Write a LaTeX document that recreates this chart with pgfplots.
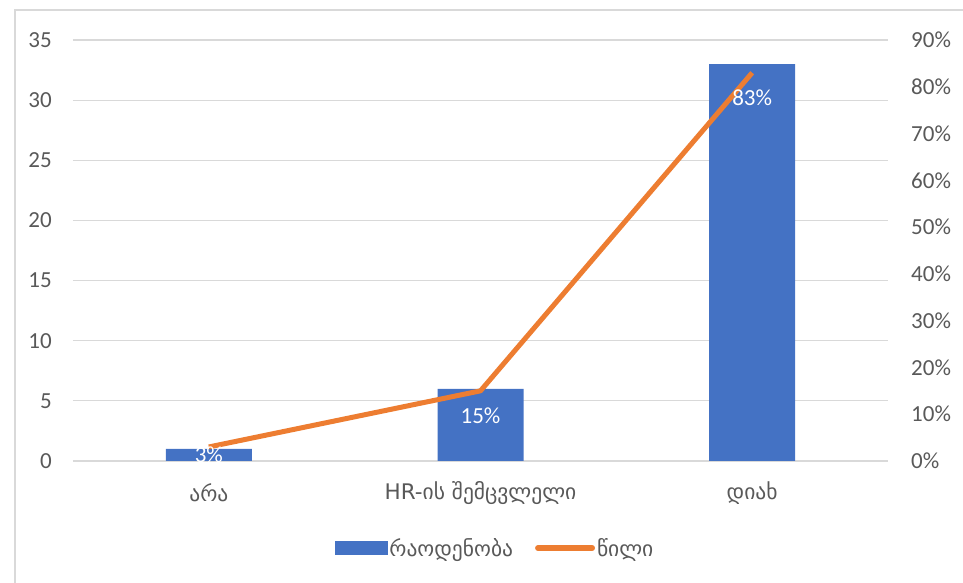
\documentclass[border=0pt]{standalone}
\usepackage{fontspec}
\setmainfont{Carlito}
\newfontfamily\geo{DejaVu Sans}
\usepackage{pgfplots}
\pgfplotsset{compat=1.18}
\definecolor{barblue}{HTML}{4472C4}
\definecolor{lineorange}{HTML}{ED7D31}
\definecolor{gridgray}{HTML}{D9D9D9}
\definecolor{labelgray}{HTML}{595959}
\newcommand\tfont{\fontsize{23}{27}\selectfont}
\newcommand\gfont{\geo\fontsize{21.5}{25}\selectfont}

\begin{document}
\begin{tikzpicture}[x=1pt,y=1pt]
\useasboundingbox (0,0) rectangle (963,583);
\draw[gridgray, line width=1.2pt] (15,-10) -- (15,573) -- (980,573);

% left axis: counts
\begin{axis}[
  at={(73pt,122pt)}, anchor=south west,
  scale only axis, width=815pt, height=421pt,
  xmin=-0.5, xmax=2.5, ymin=0, ymax=35,
  axis line style={draw=none},
  major tick length=0pt,
  ytick={0,5,10,15,20,25,30,35},
  ymajorgrids=true,
  grid style={gridgray, line width=1.2pt},
  xtick={0,1,2},
  xticklabels={{არა},{HR-ის შემცვლელი},{დიახ}},
  xticklabel style={font=\gfont, text=labelgray, anchor=center, yshift=-32pt},
  yticklabel style={font=\tfont, text=labelgray, anchor=east, inner sep=0pt, xshift=-21pt},
  /pgf/number format/assume math mode=true,
]
\addplot[ybar, bar width=86pt, fill=barblue, draw=none]
  coordinates {(0,1) (1,6) (2,33)};
\end{axis}

% right axis: share
\begin{axis}[
  at={(73pt,122pt)}, anchor=south west,
  scale only axis, width=815pt, height=421pt,
  xmin=-0.5, xmax=2.5, ymin=0, ymax=0.9,
  axis line style={draw=none},
  major tick length=0pt,
  xtick=\empty,
  yticklabel pos=right,
  ytick={0,0.1,0.2,0.3,0.4,0.5,0.6,0.7,0.8,0.9},
  yticklabels={0\%,10\%,20\%,30\%,40\%,50\%,60\%,70\%,80\%,90\%},
  yticklabel style={font=\tfont, text=labelgray, anchor=west, inner sep=0pt, xshift=23pt},
  legend style={at={(0.518,-0.2067)}, anchor=center, draw=none, fill=none,
    legend columns=2, font=\gfont, text=labelgray,
    /tikz/every even column/.append style={column sep=20pt}},
]
\addlegendimage{legend image code/.code={\fill[barblue] (0pt,-6.5pt) rectangle (52pt,6.5pt);}}
\addlegendentry{რაოდენობა}
\addplot[lineorange, line width=5pt, line join=round,
  legend image code/.code={\draw[lineorange, line width=6pt, line cap=round] (0pt,0pt) -- (54pt,0pt);},
  nodes near coords, point meta=explicit symbolic,
  nodes near coords align={center},
  every node near coord/.append style={text=white, font=\tfont, anchor=center, yshift=-25pt},
  coordinate style/.condition={\coordindex==0}{yshift=17pt}]
  coordinates {(0,0.03)[3\%] (1,0.15)[15\%] (2,0.83)[83\%]};
\addlegendentry{წილი}
\end{axis}
\end{tikzpicture}
\end{document}
